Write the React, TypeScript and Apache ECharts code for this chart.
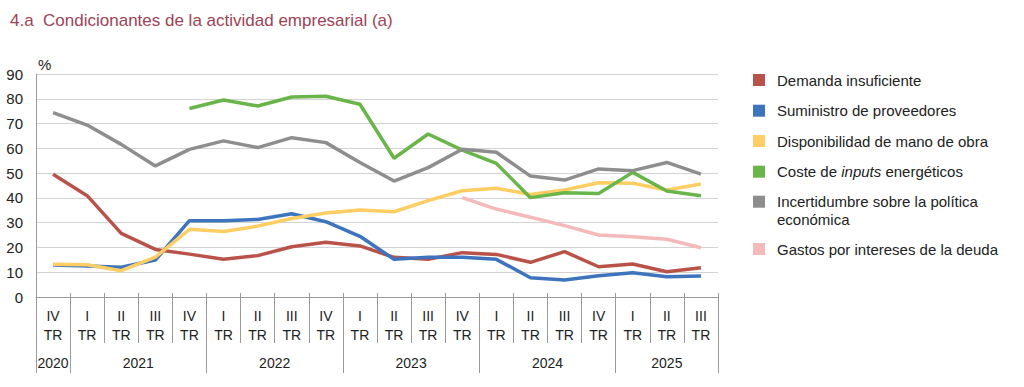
import React, { useEffect, useRef } from "react";
import * as echarts from "echarts";

const quarterRoman = ["IV", "I", "II", "III", "IV", "I", "II", "III", "IV", "I", "II", "III", "IV", "I", "II", "III", "IV", "I", "II", "III"];
const quarterYear = [2020, 2021, 2021, 2021, 2021, 2022, 2022, 2022, 2022, 2023, 2023, 2023, 2023, 2024, 2024, 2024, 2024, 2025, 2025, 2025];
const yTicks = [0, 10, 20, 30, 40, 50, 60, 70, 80, 90];

const seriesNames = [
  "Demanda insuficiente",
  "Suministro de proveedores",
  "Disponibilidad de mano de obra",
  "Coste de inputs energéticos",
  "Incertidumbre sobre la política económica",
  "Gastos por intereses de la deuda",
];
const legendLabels = [
  "Demanda insuficiente",
  "Suministro de proveedores",
  "Disponibilidad de mano de obra",
  "Coste de {i|inputs} energéticos",
  "Incertidumbre sobre la política\neconómica",
  "Gastos por intereses de la deuda",
];
const seriesColors = ["#b9534a", "#3e74bd", "#fecd63", "#6ab54a", "#8e8e8e", "#f4b9b9"];

const demanda = [49.5, 40.9, 25.7, 19.2, 17.3, 15.2, 16.7, 20.3, 22.1, 20.6, 16.0, 15.2, 17.9, 17.2, 14.0, 18.3, 12.2, 13.3, 10.2, 11.8];
const suministro = [12.9, 12.5, 12.0, 14.9, 30.8, 30.8, 31.3, 33.6, 30.4, 24.5, 15.2, 16.0, 16.0, 15.2, 7.8, 6.9, 8.6, 9.8, 8.2, 8.5];
const manoObra = [13.2, 13.0, 10.6, 16.1, 27.3, 26.4, 28.6, 31.7, 33.9, 35.1, 34.4, 38.9, 42.9, 43.9, 41.4, 43.2, 46.1, 45.9, 43.2, 45.6];
const energia = [null, null, null, null, 76.1, 79.5, 77.1, 80.7, 81.0, 77.8, 56.0, 65.8, 59.3, 53.9, 40.1, 42.1, 41.8, 50.3, 42.8, 40.9];
const incertidumbre = [74.4, 69.4, 61.6, 52.9, 59.6, 63.0, 60.3, 64.3, 62.3, 54.3, 46.8, 52.2, 59.6, 58.4, 48.8, 47.2, 51.7, 51.0, 54.3, 49.6];
const intereses = [null, null, null, null, null, null, null, null, null, null, null, null, 40.1, 35.5, 32.2, 28.8, 25.0, 24.3, 23.3, 19.9];

const allSeries = [demanda, suministro, manoObra, energia, incertidumbre, intereses];

export default function App() {
  const ref = useRef<HTMLDivElement>(null);

  useEffect(() => {
    document.body.style.margin = "0";
    if (!ref.current) return;
    const chart = echarts.init(ref.current, null, { renderer: "svg" });

    const categories = quarterRoman.map((q) => q + "\nTR");
    const n = categories.length;

    // year groups
    const years: number[] = [];
    const yearStart: number[] = [];
    const yearEnd: number[] = [];
    quarterYear.forEach((y, i) => {
      if (years.length === 0 || years[years.length - 1] !== y) {
        years.push(y);
        yearStart.push(i);
        yearEnd.push(i + 1);
      } else {
        yearEnd[yearEnd.length - 1] = i + 1;
      }
    });
    const yearBoundaries = [...yearStart, n];
    const yearCenters = years.map((_, k) => (yearStart[k] + yearEnd[k]) / 2);
    const allBoundaries = Array.from({ length: n + 1 }, (_, i) => i);

    const font = "'Liberation Sans', Arial, Helvetica, sans-serif";
    const textColor = "#222";
    const axisGray = "#9a9a9a";

    const legendTop = 80;
    const legendRowGaps = [0, 30.7, 30.3, 30.7, 30, 47.3];
    let yy = legendTop;
    const legendGraphics: any[] = [];
    legendLabels.forEach((lab, k) => {
      yy += legendRowGaps[k];
      legendGraphics.push({
        type: "rect",
        shape: { x: 753, y: yy - 6, width: 12, height: 12 },
        style: { fill: seriesColors[k] },
      });
      legendGraphics.push({
        type: "text",
        x: 777,
        y: yy - 9,
        style: {
          text: lab,
          font: `15px ${font}`,
          fill: textColor,
          lineHeight: 18,
          verticalAlign: "top",
          rich: {
            i: { fontStyle: "italic", fontSize: 15, fontFamily: font, fill: textColor, lineHeight: 18 },
          },
        },
      });
    });

    chart.setOption({
      animation: false,
      title: {
        text: "4.a  Condicionantes de la actividad empresarial (a)",
        left: 5,
        top: 7,
        textStyle: { fontSize: 17, fontWeight: "normal", color: "#9d4356", fontFamily: font },
      },
      grid: { left: 36, right: 306, top: 74, bottom: 90 },
      xAxis: [
        {
          type: "category",
          data: categories,
          boundaryGap: true,
          axisLine: { show: true, lineStyle: { color: axisGray, width: 1 } },
          axisTick: { show: true, interval: 0, length: 46, lineStyle: { color: axisGray } },
          axisLabel: {
            interval: 0,
            margin: 9,
            fontSize: 14,
            lineHeight: 19,
            color: textColor,
            fontFamily: font,
          },
          splitLine: { show: false },
        },
        {
          type: "value",
          min: 0,
          max: n,
          position: "bottom",
          axisLine: { show: false },
          splitLine: { show: false },
          axisTick: { show: true, customValues: yearBoundaries, length: 76, lineStyle: { color: axisGray } },
          axisLabel: {
            show: true,
            customValues: yearCenters,
            margin: 58,
            fontSize: 14,
            lineHeight: 16,
            color: textColor,
            fontFamily: font,
            formatter: (v: number) => {
              const k = yearCenters.findIndex((c) => Math.abs(c - v) < 1e-6);
              return k >= 0 ? String(years[k]) : "";
            },
          },
        },
        {
          type: "value",
          min: 0,
          max: n,
          position: "bottom",
          axisLine: { show: false },
          splitLine: { show: false },
          axisTick: { show: true, inside: true, customValues: allBoundaries, length: 4, lineStyle: { color: axisGray } },
          axisLabel: { show: false },
        },
      ],
      yAxis: {
        type: "value",
        min: yTicks[0],
        max: yTicks[yTicks.length - 1],
        interval: 10,
        name: "%",
        nameLocation: "end",
        nameGap: 2,
        nameTextStyle: { align: "left", fontSize: 15, color: textColor, fontFamily: font, padding: [0, 0, 0, 2] },
        axisLine: { show: true, lineStyle: { color: axisGray } },
        axisTick: { show: false },
        axisLabel: { fontSize: 15, color: textColor, fontFamily: font, margin: 13 },
        splitLine: { show: true, lineStyle: { color: "#d3d3d3", width: 1 } },
      },
      series: allSeries.map((data, k) => ({
        name: seriesNames[k],
        type: "line",
        xAxisIndex: 0,
        data,
        symbol: "none",
        connectNulls: false,
        lineStyle: { color: seriesColors[k], width: 3.5 },
        itemStyle: { color: seriesColors[k] },
      })),
      graphic: legendGraphics,
    });

    return () => chart.dispose();
  }, []);

  return <div ref={ref} style={{ width: 1024, height: 387 }} />;
}
